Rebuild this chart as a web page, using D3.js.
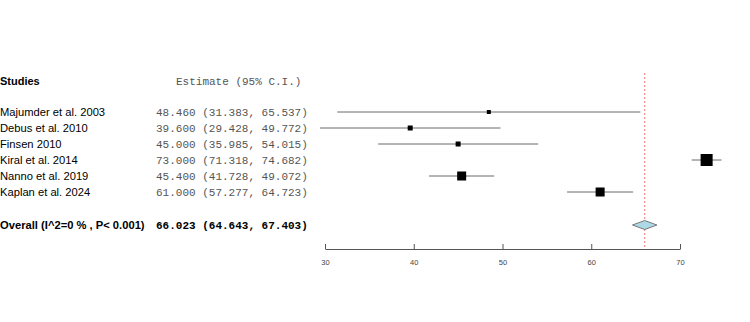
<!DOCTYPE html>
<html>
<head>
<meta charset="UTF-8">
<title>Forest plot</title>
<script src="https://d3js.org/d3.v7.min.js"></script>
<style>
  body { margin: 0; background: #fff; }
</style>
</head>
<body>
<div class="canvas"></div>
<script>
const width = 750
const height = 322

// data
const studies = ['Majumder et al. 2003', 'Debus et al. 2010', 'Finsen 2010', 'Kiral et al. 2014', 'Nanno et al. 2019', 'Kaplan et al. 2024']
const estimates = [48.460, 39.600, 45.000, 73.000, 45.400, 61.000]
const lower = [31.383, 29.428, 35.985, 71.318, 41.728, 57.277]
const upper = [65.537, 49.772, 54.015, 74.682, 49.072, 64.723]
const weights = [4, 5, 5, 12, 9, 9] // box size follows study weight
const overall = { label: 'Overall (I^2=0 % , P< 0.001)', est: 66.023, lo: 64.643, hi: 67.403 }
const ticks = [30, 40, 50, 60, 70]

const svg = d3.select('.canvas')
  .append('svg')
  .attr('width', width)
  .attr('height', height)

const x = d3.scaleLinear().domain([30, 70]).range([325, 680])
const y = d3.scaleLinear().domain([0, 5]).range([112, 192])
const yOverall = 225
const axisY = 249

const fmt = d3.format('.3f')
const ci = (e, l, h) => `${fmt(e)} (${fmt(l)}, ${fmt(h)})`

// headers
svg.append('text')
  .attr('x', 0).attr('y', 85)
  .style('font-family', 'Liberation Sans, Arial, sans-serif')
  .style('font-size', '11px').style('font-weight', 'bold')
  .text('Studies')
svg.append('text')
  .attr('x', 176).attr('y', 85)
  .attr('fill', '#555')
  .style('font-family', 'Liberation Mono, Courier New, monospace')
  .style('font-size', '11px')
  .text('Estimate (95% C.I.)')

const data = studies.map((s, i) => ({ s, e: estimates[i], l: lower[i], h: upper[i], w: weights[i], i }))

// study labels
svg.selectAll('text.study')
  .data(data)
  .enter()
  .append('text')
  .attr('class', 'study')
  .attr('x', 0)
  .attr('y', d => y(d.i) + 4)
  .style('font-family', 'Liberation Sans, Arial, sans-serif')
  .style('font-size', '11.2px')
  .text(d => d.s)

svg.selectAll('text.est')
  .data(data)
  .enter()
  .append('text')
  .attr('class', 'est')
  .attr('x', 156)
  .attr('y', d => y(d.i) + 4)
  .attr('fill', '#555')
  .style('font-family', 'Liberation Mono, Courier New, monospace')
  .style('font-size', '11px')
  .text(d => ci(d.e, d.l, d.h))

// reference line at the overall estimate
svg.append('line')
  .attr('x1', x(overall.est)).attr('x2', x(overall.est))
  .attr('y1', 73).attr('y2', axisY)
  .attr('stroke', '#f07878')
  .attr('stroke-width', 1)
  .attr('stroke-dasharray', '2,2')

// CI lines
svg.selectAll('line.ci')
  .data(data)
  .enter()
  .append('line')
  .attr('class', 'ci')
  .attr('x1', d => x(d.l))
  .attr('x2', d => x(d.h))
  .attr('y1', d => y(d.i))
  .attr('y2', d => y(d.i))
  .attr('stroke', '#6a6a6a')
  .attr('stroke-width', 1)

// boxes
svg.selectAll('rect.box')
  .data(data)
  .enter()
  .append('rect')
  .attr('class', 'box')
  .attr('x', d => x(d.e) - d.w / 2)
  .attr('y', d => y(d.i) - d.w / 2)
  .attr('width', d => d.w)
  .attr('height', d => d.w)
  .attr('fill', '#000')

// overall row
svg.append('text')
  .attr('x', 0).attr('y', yOverall + 4)
  .style('font-family', 'Liberation Sans, Arial, sans-serif')
  .style('font-size', '11.2px').style('font-weight', 'bold')
  .text(overall.label)
svg.append('text')
  .attr('x', 156).attr('y', yOverall + 4)
  .style('font-family', 'Liberation Mono, Courier New, monospace')
  .style('font-size', '11px').style('font-weight', 'bold')
  .text(ci(overall.est, overall.lo, overall.hi))

const diamond = [
  [x(overall.lo), yOverall],
  [x(overall.est), yOverall - 4.5],
  [x(overall.hi), yOverall],
  [x(overall.est), yOverall + 4.5]
]
svg.append('path')
  .attr('d', d3.line()(diamond) + 'Z')
  .attr('fill', 'lightblue')
  .attr('stroke', '#777')
  .attr('stroke-width', 1)

// x axis
const axis = svg.append('g')
  .attr('transform', `translate(0, ${axisY})`)
  .call(d3.axisBottom(x).tickValues(ticks).tickSize(-5).tickPadding(11).tickSizeOuter(0))
axis.select('.domain').attr('stroke', '#555')
axis.selectAll('.tick line').attr('stroke', '#555')
axis.selectAll('.tick text')
  .attr('fill', '#444')
  .style('font-family', 'Liberation Sans, Arial, sans-serif')
  .style('font-size', '7.5px')
</script>
</body>
</html>
